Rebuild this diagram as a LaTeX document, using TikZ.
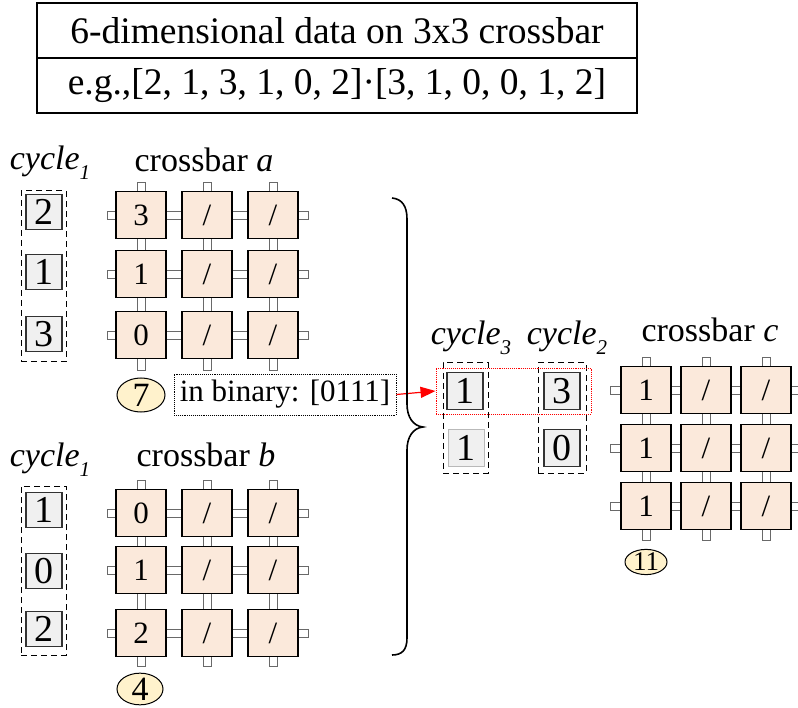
\documentclass[tikz,border=0pt]{standalone}
\usepackage{fontspec}
\setmainfont{Liberation Serif}
\usetikzlibrary{shapes.geometric,arrows.meta}
\definecolor{cellfill}{RGB}{251,233,219}
\definecolor{ellfill}{RGB}{255,242,204}
\definecolor{cycfill}{RGB}{240,240,240}
\definecolor{cycborder}{RGB}{50,50,50}
\definecolor{wiregray}{RGB}{105,105,105}
\newcommand\cyclab[1]{\textit{cycle}\raisebox{-0.28em}{\fontsize{21}{21}\selectfont\itshape #1}}
\begin{document}
\begin{tikzpicture}[x=1pt,y=-1pt,
  cell/.style={draw=black,line width=1.2pt,fill=cellfill,minimum width=50pt,minimum height=47pt,inner sep=0pt,font=\fontsize{31}{31}\selectfont},
  wire/.style={draw=wiregray,fill=white,line width=0.9pt},
  cyc/.style={draw=cycborder,line width=1.5pt,fill=cycfill,minimum width=36pt,minimum height=35pt,inner sep=0pt,font=\fontsize{38}{38}\selectfont},
  grp/.style={draw=black,dash pattern=on 6pt off 4pt,line width=1pt,minimum width=45pt,inner sep=0pt},
  lab/.style={anchor=base,inner sep=0pt,font=\fontsize{34}{36}\selectfont},
  ell/.style={ellipse,draw=black,line width=1pt,fill=ellfill,inner sep=0pt},
  titlebox/.style={draw=black,line width=1.2pt,minimum width=600pt,minimum height=55pt,inner sep=0pt,font=\fontsize{37.5}{40}\selectfont}
]
\useasboundingbox (0,0) rectangle (798,708);

% title
\node[titlebox] (t1) at (337,30.5) {6-dimensional data on 3x3 crossbar};
\node[titlebox] (t2) at (337,85.5) {e.g.,[2, 1, 3, 1, 0, 2]·[3, 1, 0, 0, 1, 2]};

% crossbar a
\foreach \y in {215,274,335} \draw[wire] (107,\y-4) rectangle (308,\y+4);
\foreach \x in {141,207,273} \draw[wire] (\x-4,182) rectangle (\x+4,370);
\foreach \v [count=\r] in {3,1,0} {
  \pgfmathsetmacro\yy{{215,274,335}[\r-1]}
  \node[cell] (a-\r-1) at (141,\yy) {\v};
  \node[cell] (a-\r-2) at (207,\yy) {/};
  \node[cell] (a-\r-3) at (273,\yy) {/};
}
% crossbar b
\foreach \y in {513,570,633} \draw[wire] (107,\y-4) rectangle (308,\y+4);
\foreach \x in {141,207,273} \draw[wire] (\x-4,480) rectangle (\x+4,666);
\foreach \v [count=\r] in {0,1,2} {
  \pgfmathsetmacro\yy{{513,570,633}[\r-1]}
  \node[cell] (b-\r-1) at (141,\yy) {\v};
  \node[cell] (b-\r-2) at (207,\yy) {/};
  \node[cell] (b-\r-3) at (273,\yy) {/};
}
% crossbar c
\foreach \y in {390,448,506} \draw[wire] (610,\y-4) rectangle (803,\y+4);
\foreach \x in {646,706,766} \draw[wire] (\x-4,357) rectangle (\x+4,540);
\foreach \v [count=\r] in {1,1,1} {
  \pgfmathsetmacro\yy{{390,448,506}[\r-1]}
  \node[cell] (c-\r-1) at (646,\yy) {\v};
  \node[cell] (c-\r-2) at (706,\yy) {/};
  \node[cell] (c-\r-3) at (766,\yy) {/};
}

% labels
\node[lab] (la) at (50,170) {\cyclab{1}};
\node[lab] (lxa) at (204,172) {crossbar \textit{a}};
\node[lab] (lb) at (50,467) {\cyclab{1}};
\node[lab] (lxb) at (206,467) {crossbar \textit{b}};
\node[lab] (l3) at (471,345) {\cyclab{3}};
\node[lab] (l2) at (567,345) {\cyclab{2}};
\node[lab] (lxc) at (710,342) {crossbar \textit{c}};

% cycle groups
\node[grp,minimum height=171pt] (ga) at (43.5,276.5) {};
\node[grp,minimum height=169pt] (gb) at (43.5,570.5) {};
\node[grp,minimum height=110pt] (g3) at (465.5,418) {};
\node[grp,minimum height=110pt,minimum width=48pt] (g2) at (562,418) {};

\node[cyc] (ca1) at (44,212) {2};
\node[cyc] (ca2) at (44,272) {1};
\node[cyc] (ca3) at (44,334) {3};
\node[cyc] (cb1) at (44,510) {1};
\node[cyc] (cb2) at (44,571) {0};
\node[cyc] (cb3) at (44,629) {2};
\node[cyc,minimum height=37pt] (c31) at (465,391) {1};
\node[cyc,minimum height=37pt,draw=gray!55,line width=1pt] (c32) at (466,448) {1};
\node[cyc,minimum height=37pt] (c21) at (562,391) {3};
\node[cyc,minimum height=37pt] (c22) at (562,448) {0};

% ellipses
\node[ell,minimum width=48pt,minimum height=34pt,font=\fontsize{34}{34}\selectfont] (e7) at (141,395) {7};
\node[ell,minimum width=46pt,minimum height=27pt,font=\fontsize{34}{34}\selectfont] (e4) at (140,689) {4};
\node[ell,minimum width=42pt,minimum height=22pt,font=\fontsize{27}{27}\selectfont] (e11) at (646,562) {11};

% binary box and red selection
\node[draw=black,densely dotted,line width=0.9pt,minimum width=222pt,minimum height=41pt,inner sep=0pt,font=\fontsize{31}{31}\selectfont] (bin) at (285,394.5) {in binary: [0111]};
\node[draw=red,densely dotted,line width=0.9pt,minimum width=155pt,minimum height=46pt,inner sep=0pt] (sel) at (513.5,391) {};
\draw[red,line width=1.2pt,-{Triangle[length=15pt,width=11pt]}] (bin.east) -- (sel.west);

% brace
\draw[line width=1.6pt] (392,198) .. controls (402,199) and (407,206) .. (407,219)
  -- (407,404) .. controls (407,417) and (413,426) .. (423,427)
  .. controls (413,428) and (407,437) .. (407,450)
  -- (407,638) .. controls (407,650) and (402,655) .. (392,655);
\end{tikzpicture}
\end{document}
